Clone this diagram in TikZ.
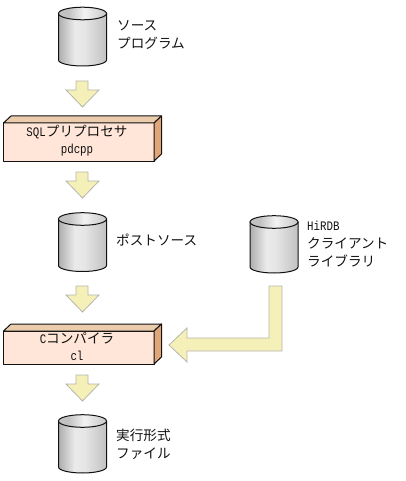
\documentclass[tikz,border=0pt]{standalone}
\usepackage{fontspec}
\setmainfont[FakeStretch=.83]{Liberation Mono}
\newfontfamily\jpfont{Noto Sans CJK JP}
\usetikzlibrary{positioning,calc}
\definecolor{Ink}{HTML}{111111}
\definecolor{Cream}{HTML}{F5F0B8}
\definecolor{ArrowEdge}{HTML}{B4B4AC}
\definecolor{BoxFront}{HTML}{FFE6D8}
\definecolor{BoxTop}{HTML}{EBCDAD}
\definecolor{BoxSide}{HTML}{E0A678}
\pgfdeclarehorizontalshading{canshade}{100bp}{
  color(0bp)=(white!66!black); color(25bp)=(white!68!black); color(42bp)=(white!92!black);
  color(52bp)=(white!90!black); color(75bp)=(white!76!black); color(100bp)=(white!62!black)}
\pgfdeclarehorizontalshading{lidshade}{100bp}{
  color(0bp)=(white!74!black); color(35bp)=(white!76!black); color(52bp)=(white!95!black);
  color(75bp)=(white!78!black); color(100bp)=(white!70!black)}
\tikzset{
  label/.style={font=\jpfont\fontsize{13.6}{18}\selectfont,text=Ink,align=left,anchor=west,inner sep=0pt},
  boxlabel/.style={font=\fontsize{13}{13}\selectfont,text=Ink,align=center,inner sep=0pt},
  blockarrow/.style={fill=Cream,draw=ArrowEdge,line width=.8pt,line join=miter},
  boxedge/.style={draw=Ink,line width=1pt,line join=round}
}
\newcommand{\jp}[1]{{\jpfont\fontsize{13.6}{13}\selectfont #1}}
\begin{document}
\begin{tikzpicture}[x=1pt,y=-1pt]
    \useasboundingbox (0,0) rectangle (406,481);
    % cans, x/top/bottom
    \foreach \x/\t/\b in {82.5/13.5/60,82.5/219/265.5,274/222/267,82.5/421/467}{
      \path[shading=canshade,draw=Ink,line width=1pt]
        (\x-24,\t) -- (\x-24,\b) arc[start angle=180,end angle=360,x radius=24,y radius=-6]
        -- (\x+24,\t) -- cycle;
      \path[shading=lidshade,draw=Ink,line width=1pt]
        (\x,\t) ellipse[x radius=24,y radius=6.3];
    }
    % arrows down
    \foreach \y in {81,172,286,375}{
      \path[blockarrow] (76,\y) -- (88,\y) -- (88,\y+9) -- (99,\y+9) -- (82.5,\y+26)
        -- (66,\y+9) -- (76,\y+9) -- cycle;
    }
    \path[blockarrow] (269,286) -- (282,286) -- (282,351) -- (187,351) -- (187,362)
      -- (169,345) -- (187,328) -- (187,338) -- (269,338) -- cycle;
    % boxes, top/bottom
    \foreach \t/\b/\n in {123/161/prep,331/364/comp}{
      \path[boxedge,fill=BoxFront] (3.5,\t) rectangle (154,\b);
      \path[boxedge,fill=BoxTop] (3.5,\t) -- (11,\t-7) -- (161.5,\t-7) -- (154,\t) -- cycle;
      \path[boxedge,fill=BoxSide] (154,\t) -- (161.5,\t-7) -- (161.5,\b-7) -- (154,\b) -- cycle;
      \coordinate (\n) at (77,\t);
    }
    \node[boxlabel] (preptext) at ($(prep)+(0,9)$) {SQL\jp{プリプロセサ}};
    \node[boxlabel] (prepsub) at ($(prep)+(0,27)$) {pdcpp};
    \node[boxlabel] (comptext) at ($(comp)+(0,7)$) {C\jp{コンパイラ}};
    \node[boxlabel] (compsub) at ($(comp)+(0,25)$) {cl};
    \node[label] (source) at (117,35) {ソース\\プログラム};
    \node[label] (post) at (116,240) {ポストソース};
    \node[label] (lib) at (307,244) {\rmfamily\fontsize{13}{17}\selectfont HiRDB\\\jp{クライアント}\\\jp{ライブラリ}};
    \node[label] (exe) at (116,444) {実行形式\\ファイル};
  \end{tikzpicture}
\end{document}
